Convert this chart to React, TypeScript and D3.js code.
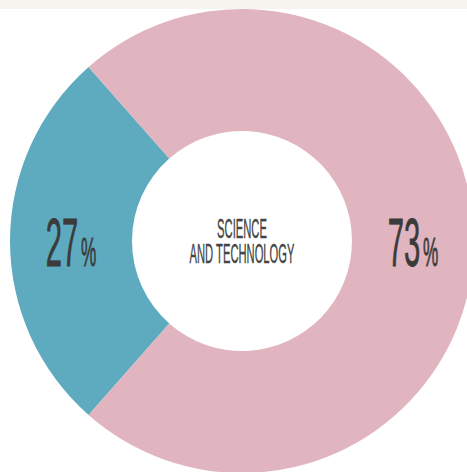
import React from "react";
import * as d3 from "d3";

const categories = ["Other", "Science and Technology"];
const values = [27, 73];
const colors = ["#5eabc0", "#e1b5bf"];
const centerLines = ["SCIENCE", "AND TECHNOLOGY"];

const W = 467;
const H = 472;
const CX = 242;
const CY = 241;
const R_OUT = 232;
const R_IN = 110;

export default function App() {
  const total = d3.sum(values);
  const tealShare = values[0] / total;
  const start = -Math.PI / 2 - tealShare * Math.PI;
  const pie = d3
    .pie<number>()
    .sort(null)
    .value((d) => d)
    .startAngle(start)
    .endAngle(start + 2 * Math.PI);
  const arcs = pie(values);
  const arc = d3.arc<d3.PieArcDatum<number>>().innerRadius(R_IN).outerRadius(R_OUT);
  const fmt = d3.format("d");
  const font = "'Liberation Sans', Arial, sans-serif";

  return (
    <svg
      width={W}
      height={H}
      style={{ position: "fixed", left: 0, top: 0, background: "#ffffff" }}
    >
      <rect x={0} y={0} width={W} height={9} fill="#f5f4ee" />
      <g transform={`translate(${CX},${CY})`}>
        {arcs.map((a, i) => (
          <path key={categories[i]} d={arc(a) || ""} fill={colors[i]} />
        ))}
        {arcs.map((a, i) => {
          const [x, y] = arc.centroid(a);
          const label = fmt(Math.round((a.data / total) * 100));
          return (
            <text
              key={"l" + i}
              transform={`translate(${x},${y + 25}) scale(0.43,1)`}
              textAnchor="middle"
              fill="#3b3b3b"
              stroke="#3b3b3b"
              strokeWidth={0.8}
              fontFamily={font}
              fontSize={68}
            >
              {label}
              <tspan fontSize={40} dx={6}>%</tspan>
            </text>
          );
        })}
        <g
          fill="#444444"
          stroke="#444444"
          strokeWidth={0.4}
          fontFamily={font}
          fontSize={28}
          textAnchor="middle"
        >
          <text transform="translate(0,-3) scale(0.40,1)">{centerLines[0]}</text>
          <text transform="translate(0,22) scale(0.40,1)">{centerLines[1]}</text>
        </g>
      </g>
    </svg>
  );
}
